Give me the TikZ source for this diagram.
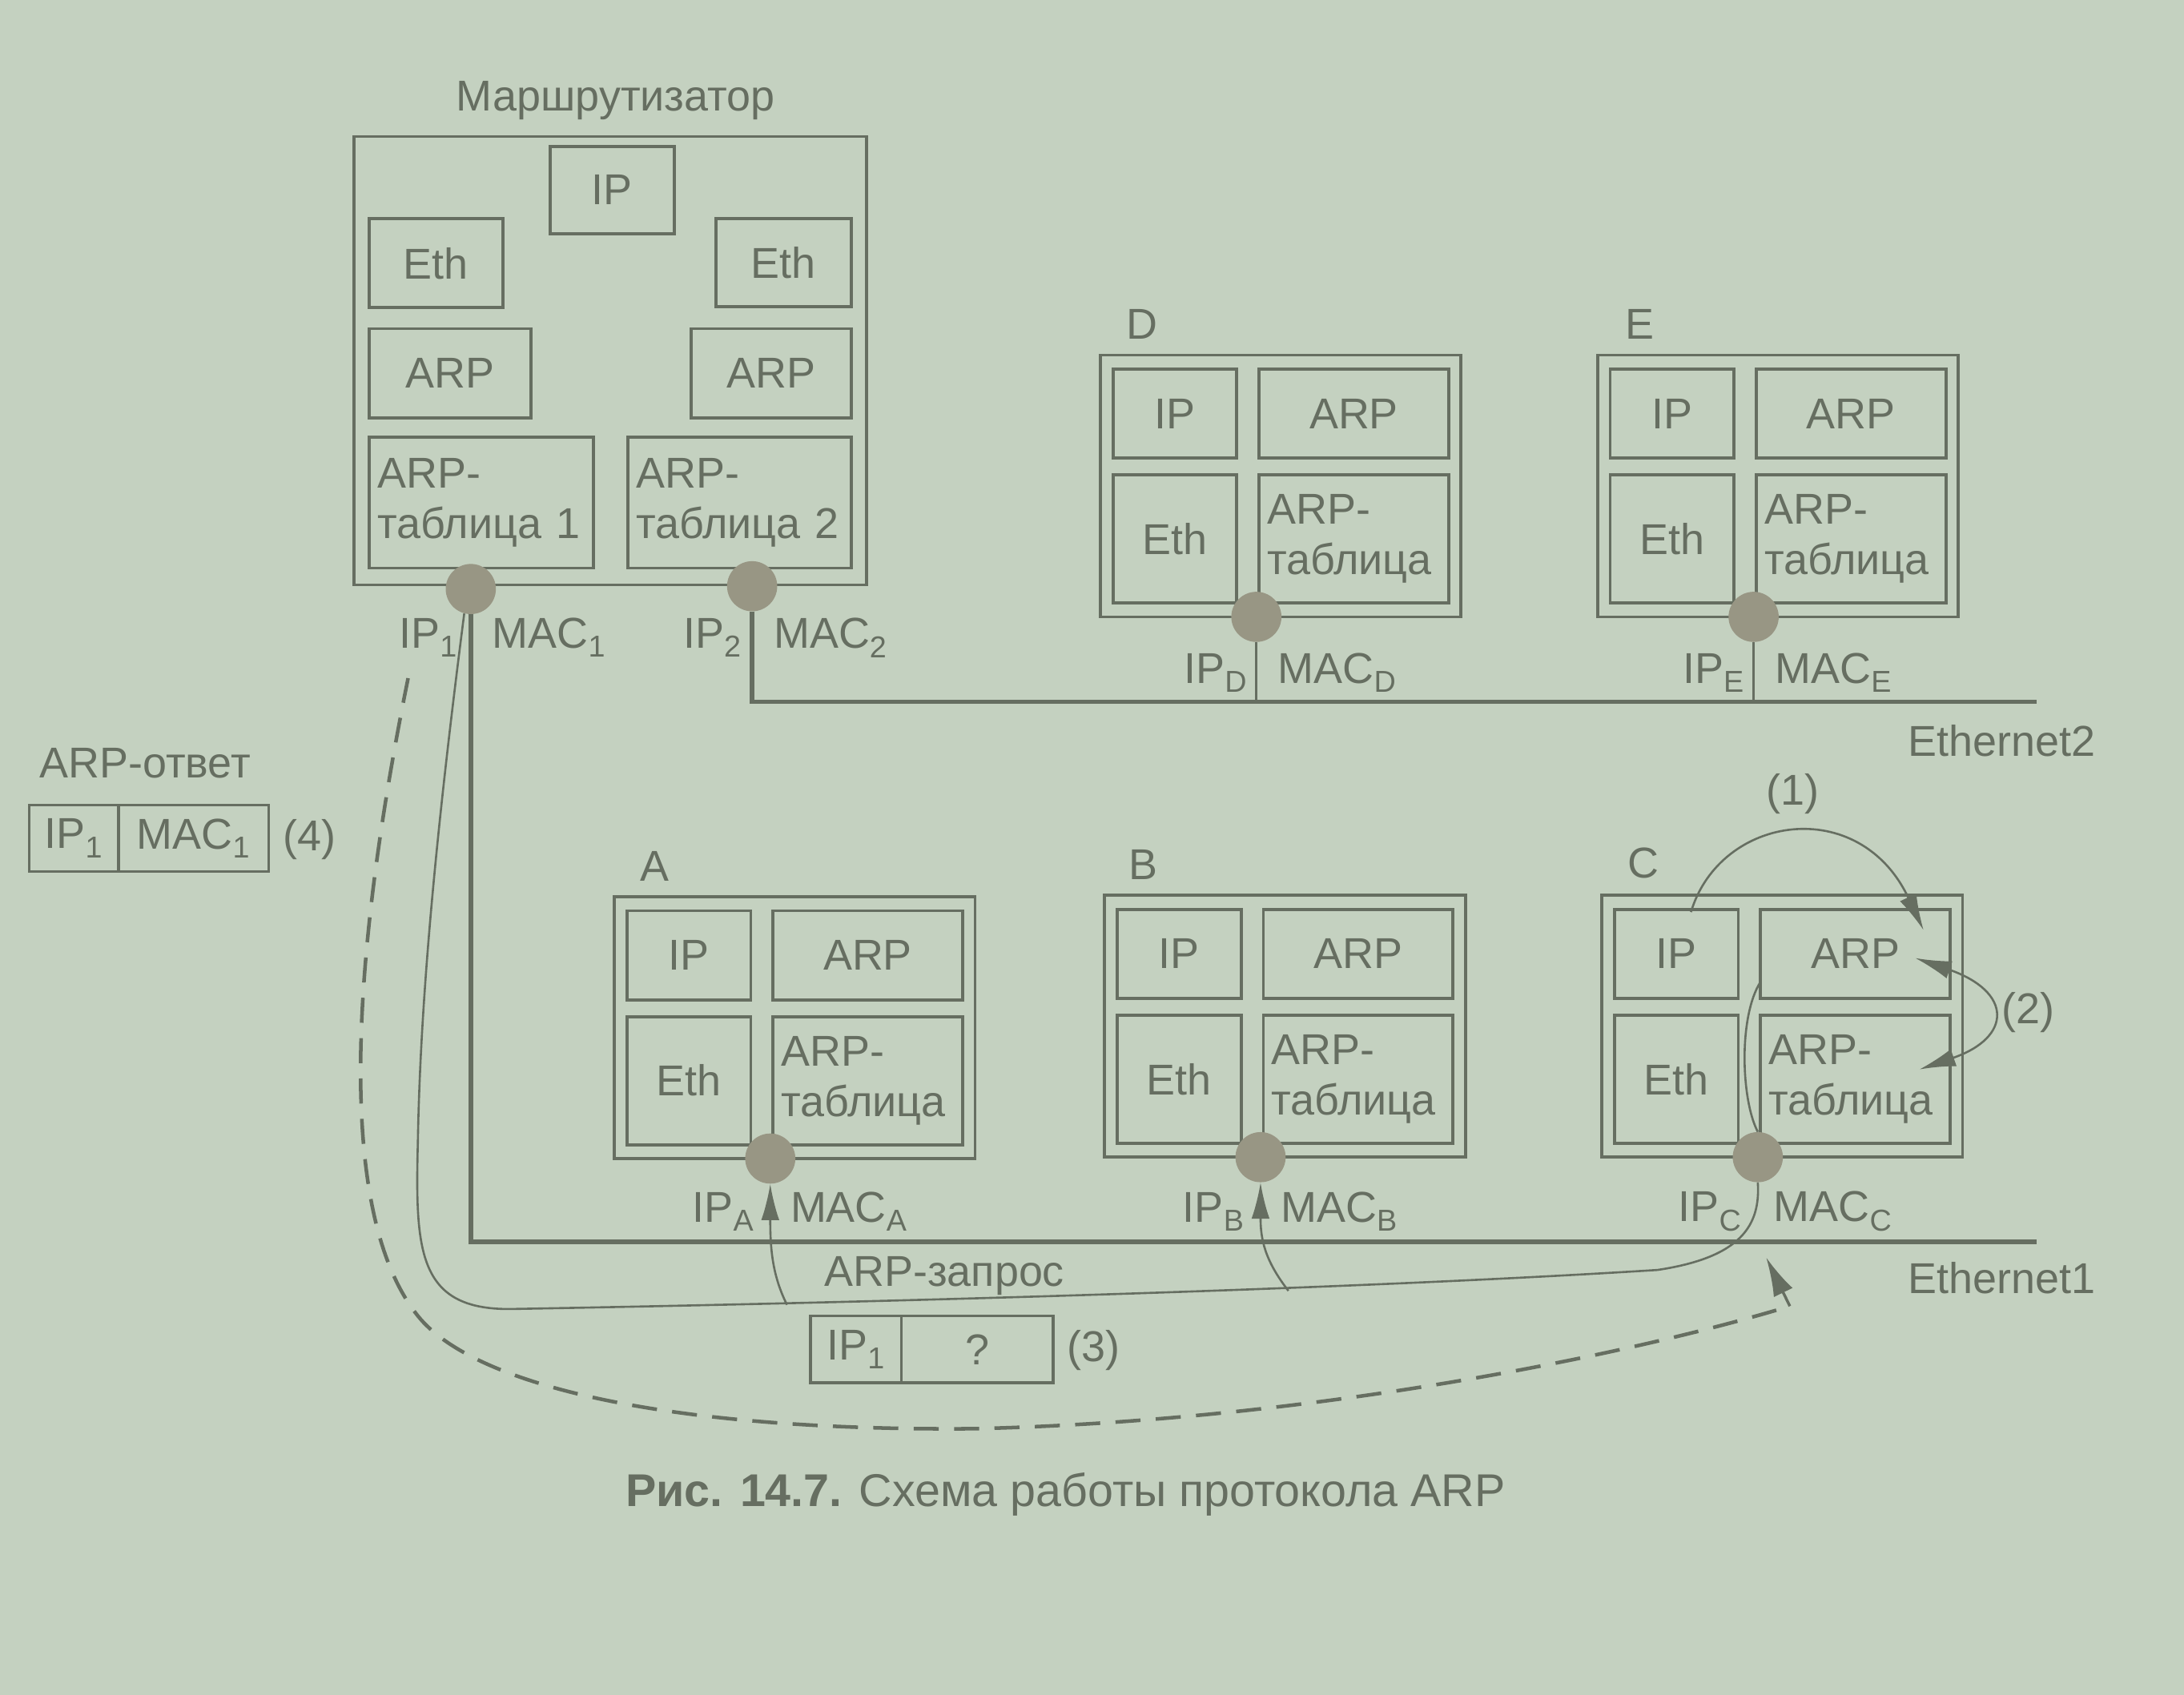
\documentclass[tikz,border=0pt]{standalone}
\usepackage{fontspec}
\setmainfont{Liberation Sans}
\usetikzlibrary{arrows.meta}
\definecolor{paper}{RGB}{196,209,192}
\definecolor{ink}{RGB}{102,110,97}
\definecolor{portfill}{RGB}{152,150,132}

\begin{document}
\begin{tikzpicture}[x={(1pt,0)},y={(0,-1pt)},>=Latex,
  font=\fontsize{31}{36}\selectfont,every node/.append style={text=ink},
  host/.style={draw=ink,line width=2.2pt,minimum width=259pt,minimum height=188pt,inner sep=0pt},
  module/.style={draw=ink,line width=2.2pt,inner sep=0pt},
  ipbox/.style={module,minimum width=89pt,minimum height=64pt},
  arpbox/.style={module,minimum width=136pt,minimum height=64pt},
  ethbox/.style={module,minimum width=89pt,minimum height=92pt},
  arptab/.style={module,align=left,inner sep=6pt,text width=124pt,minimum height=92pt},
  port/.style={circle,fill=portfill,minimum size=36pt,inner sep=0pt},
  bus/.style={draw=ink,line width=3.4pt},
  tap/.style={draw=ink,line width=1.6pt},
  request/.style={draw=ink,line width=1.5pt},
  arrowed/.style={request,-{Latex[length=26pt,width=13pt]}},
  twoway/.style={request,{Latex[length=26pt,width=13pt]}-{Latex[length=26pt,width=13pt]}},
  reply/.style={draw=ink,line width=2.6pt,dash pattern=on 18pt off 11pt},
  cell/.style={draw=ink,line width=2pt,minimum height=48pt,inner sep=0pt}]
  \useasboundingbox (0,0) rectangle (1568,1217);
  \fill[paper] (0,0) rectangle (1568,1217);

  % router
  \node (routername) at (442,72) {Маршрутизатор};
  \node[host,minimum width=368pt,minimum height=322pt] (router) at (438,259) {};
  \node[module,minimum width=89pt,minimum height=63pt] (R-ip) at (439.5,136.5) {IP};
  \node[module,minimum width=96pt,minimum height=64pt] (R-eth1) at (313,189) {Eth};
  \node[module,minimum width=97pt,minimum height=63pt] (R-eth2) at (562.5,188.5) {Eth};
  \node[module,minimum width=116pt,minimum height=64pt] (R-arp1) at (323,268) {ARP};
  \node[module,minimum width=115pt,minimum height=64pt] (R-arp2) at (553.5,268) {ARP};
  \node[arptab,text width=149pt,minimum height=94pt] (R-tab1) at (345.5,361) {ARP-\\таблица 1};
  \node[arptab,text width=148pt,minimum height=94pt] (R-tab2) at (531,361) {ARP-\\таблица 2};
  \node[port] (P1) at (338,423) {};
  \node[port] (P2) at (540,421) {};
  \node[anchor=east] (P1-iplbl) at (332,458) {IP\textsubscript{1}};
  \node[anchor=west] (P1-maclbl) at (350,458) {MAC\textsubscript{1}};
  \node[anchor=east] (P2-iplbl) at (536,458) {IP\textsubscript{2}};
  \node[anchor=west] (P2-maclbl) at (552,458) {MAC\textsubscript{2}};

  % host D
  \node (D-name) at (820,233) {D};
  \node[host] (D) at (919.5,349) {};
  \node[ipbox] (D-ip) at (843.5,297) {IP};
  \node[arpbox] (D-arp) at (972,297) {ARP};
  \node[ethbox] (D-eth) at (843.5,387) {Eth};
  \node[arptab] (D-tab) at (972,387) {ARP-\\таблица};
  \node[port] (D-port) at (902,443) {};
  \node[anchor=east] (D-iplbl) at (899,483) {IP\textsubscript{D}};
  \node[anchor=west] (D-maclbl) at (914,483) {MAC\textsubscript{D}};

  % host E
  \node (E-name) at (1177,233) {E};
  \node[host] (E) at (1276.5,349) {};
  \node[ipbox] (E-ip) at (1200.5,297) {IP};
  \node[arpbox] (E-arp) at (1329,297) {ARP};
  \node[ethbox] (E-eth) at (1200.5,387) {Eth};
  \node[arptab] (E-tab) at (1329,387) {ARP-\\таблица};
  \node[port] (E-port) at (1259,443) {};
  \node[anchor=east] (E-iplbl) at (1256,483) {IP\textsubscript{E}};
  \node[anchor=west] (E-maclbl) at (1271,483) {MAC\textsubscript{E}};

  % host A
  \node (A-name) at (470,622) {A};
  \node[host] (A) at (570.5,738) {};
  \node[ipbox] (A-ip) at (494.5,686) {IP};
  \node[arpbox] (A-arp) at (623,686) {ARP};
  \node[ethbox] (A-eth) at (494.5,776) {Eth};
  \node[arptab] (A-tab) at (623,776) {ARP-\\таблица};
  \node[port] (A-port) at (553,832) {};
  \node[anchor=east] (A-iplbl) at (545,870) {IP\textsubscript{A}};
  \node[anchor=west] (A-maclbl) at (564,870) {MAC\textsubscript{A}};

  % host B
  \node (B-name) at (821,621) {B};
  \node[host] (B) at (922.5,737) {};
  \node[ipbox] (B-ip) at (846.5,685) {IP};
  \node[arpbox] (B-arp) at (975,685) {ARP};
  \node[ethbox] (B-eth) at (846.5,775) {Eth};
  \node[arptab] (B-tab) at (975,775) {ARP-\\таблица};
  \node[port] (B-port) at (905,831) {};
  \node[anchor=east] (B-iplbl) at (897,870) {IP\textsubscript{B}};
  \node[anchor=west] (B-maclbl) at (916,870) {MAC\textsubscript{B}};

  % host C
  \node (C-name) at (1180,620) {C};
  \node[host] (C) at (1279.5,737) {};
  \node[ipbox] (C-ip) at (1203.5,685) {IP};
  \node[arpbox] (C-arp) at (1332,685) {ARP};
  \node[ethbox] (C-eth) at (1203.5,775) {Eth};
  \node[arptab] (C-tab) at (1332,775) {ARP-\\таблица};
  \node[port] (C-port) at (1262,831) {};
  \node[anchor=east] (C-iplbl) at (1254,870) {IP\textsubscript{C}};
  \node[anchor=west] (C-maclbl) at (1270,870) {MAC\textsubscript{C}};

  % the two segments
  \coordinate (E2end) at (1462,504);
  \coordinate (E1end) at (1462,892);
  \draw[bus] (P2.south) |- (E2end);
  \draw[bus] (P1.south) |- (E1end);
  \draw[tap] (D-port.south) -- (D-port.south |- E2end);
  \draw[tap] (E-port.south) -- (E-port.south |- E2end);
  \node (eth2) at (1437,532) {Ethernet2};
  \node (eth1) at (1437,918) {Ethernet1};

  % steps (1) and (2) inside C
  \coordinate (c-ipout) at (1214,655);
  \coordinate (c-arpin) at (1381,668);
  \coordinate (c-arplook) at (1375,688);
  \coordinate (c-tablook) at (1378,768);
  \draw[arrowed] (c-ipout) .. controls (1235,585) and (1335,570) .. (c-arpin);
  \draw[twoway] (c-arplook) .. controls (1445,712) and (1445,745) .. (c-tablook);
  \node (step1) at (1287,570) {(1)};
  \node (step2) at (1456,727) {(2)};

  % ARP request, broadcast
  \coordinate (reqstart) at (1264,705);
  \coordinate (tapA) at (565,937);
  \coordinate (tapB) at (925,927);
  \draw[request] (reqstart) .. controls (1248,730) and (1250,790) .. (C-port.north)
    (C-port.south) .. controls (1264,880) and (1250,903) .. (1190,912)
    .. controls (1000,924) and (700,934) .. (370,940)
    .. controls (300,942) and (298,900) .. (300,820)
    .. controls (302,700) and (318,560) .. (P1.255);
  \draw[arrowed] (tapA) .. controls (554,915) and (553,895) .. (A-port.south);
  \draw[arrowed] (tapB) .. controls (908,905) and (905,890) .. (B-port.south);
  \node (reqtitle) at (678,916) {ARP-запрос};
  \node[cell,minimum width=65pt] (req-ip) at (614.5,969) {IP\textsubscript{1}};
  \node[cell,minimum width=109pt] (req-mac) at (701.5,969) {?};
  \node (step3) at (785,970) {(3)};

  % ARP reply
  \coordinate (replystart) at (293,487);
  \coordinate (replyturn) at (1285,938);
  \coordinate (replyend) at (1268,903);
  \draw[reply] (replystart) .. controls (262,640) and (232,860) .. (300,945)
    .. controls (340,995) and (480,1028) .. (700,1026)
    .. controls (950,1020) and (1180,970) .. (replyturn);
  \draw[request,line width=2pt,-{Latex[length=28pt,width=15pt]}] (replyturn) -- (replyend);
  \node[anchor=west] (replytitle) at (25,548) {ARP-ответ};
  \node[cell,minimum width=64pt] (reply-ip) at (53,602) {IP\textsubscript{1}};
  \node[cell,minimum width=108pt] (reply-mac) at (139,602) {MAC\textsubscript{1}};
  \node (step4) at (222,603) {(4)};

  \node[font=\fontsize{33}{38}\selectfont] (caption) at (765,1073) {\textbf{Рис. 14.7.} Схема работы протокола ARP};
\end{tikzpicture}
\end{document}
